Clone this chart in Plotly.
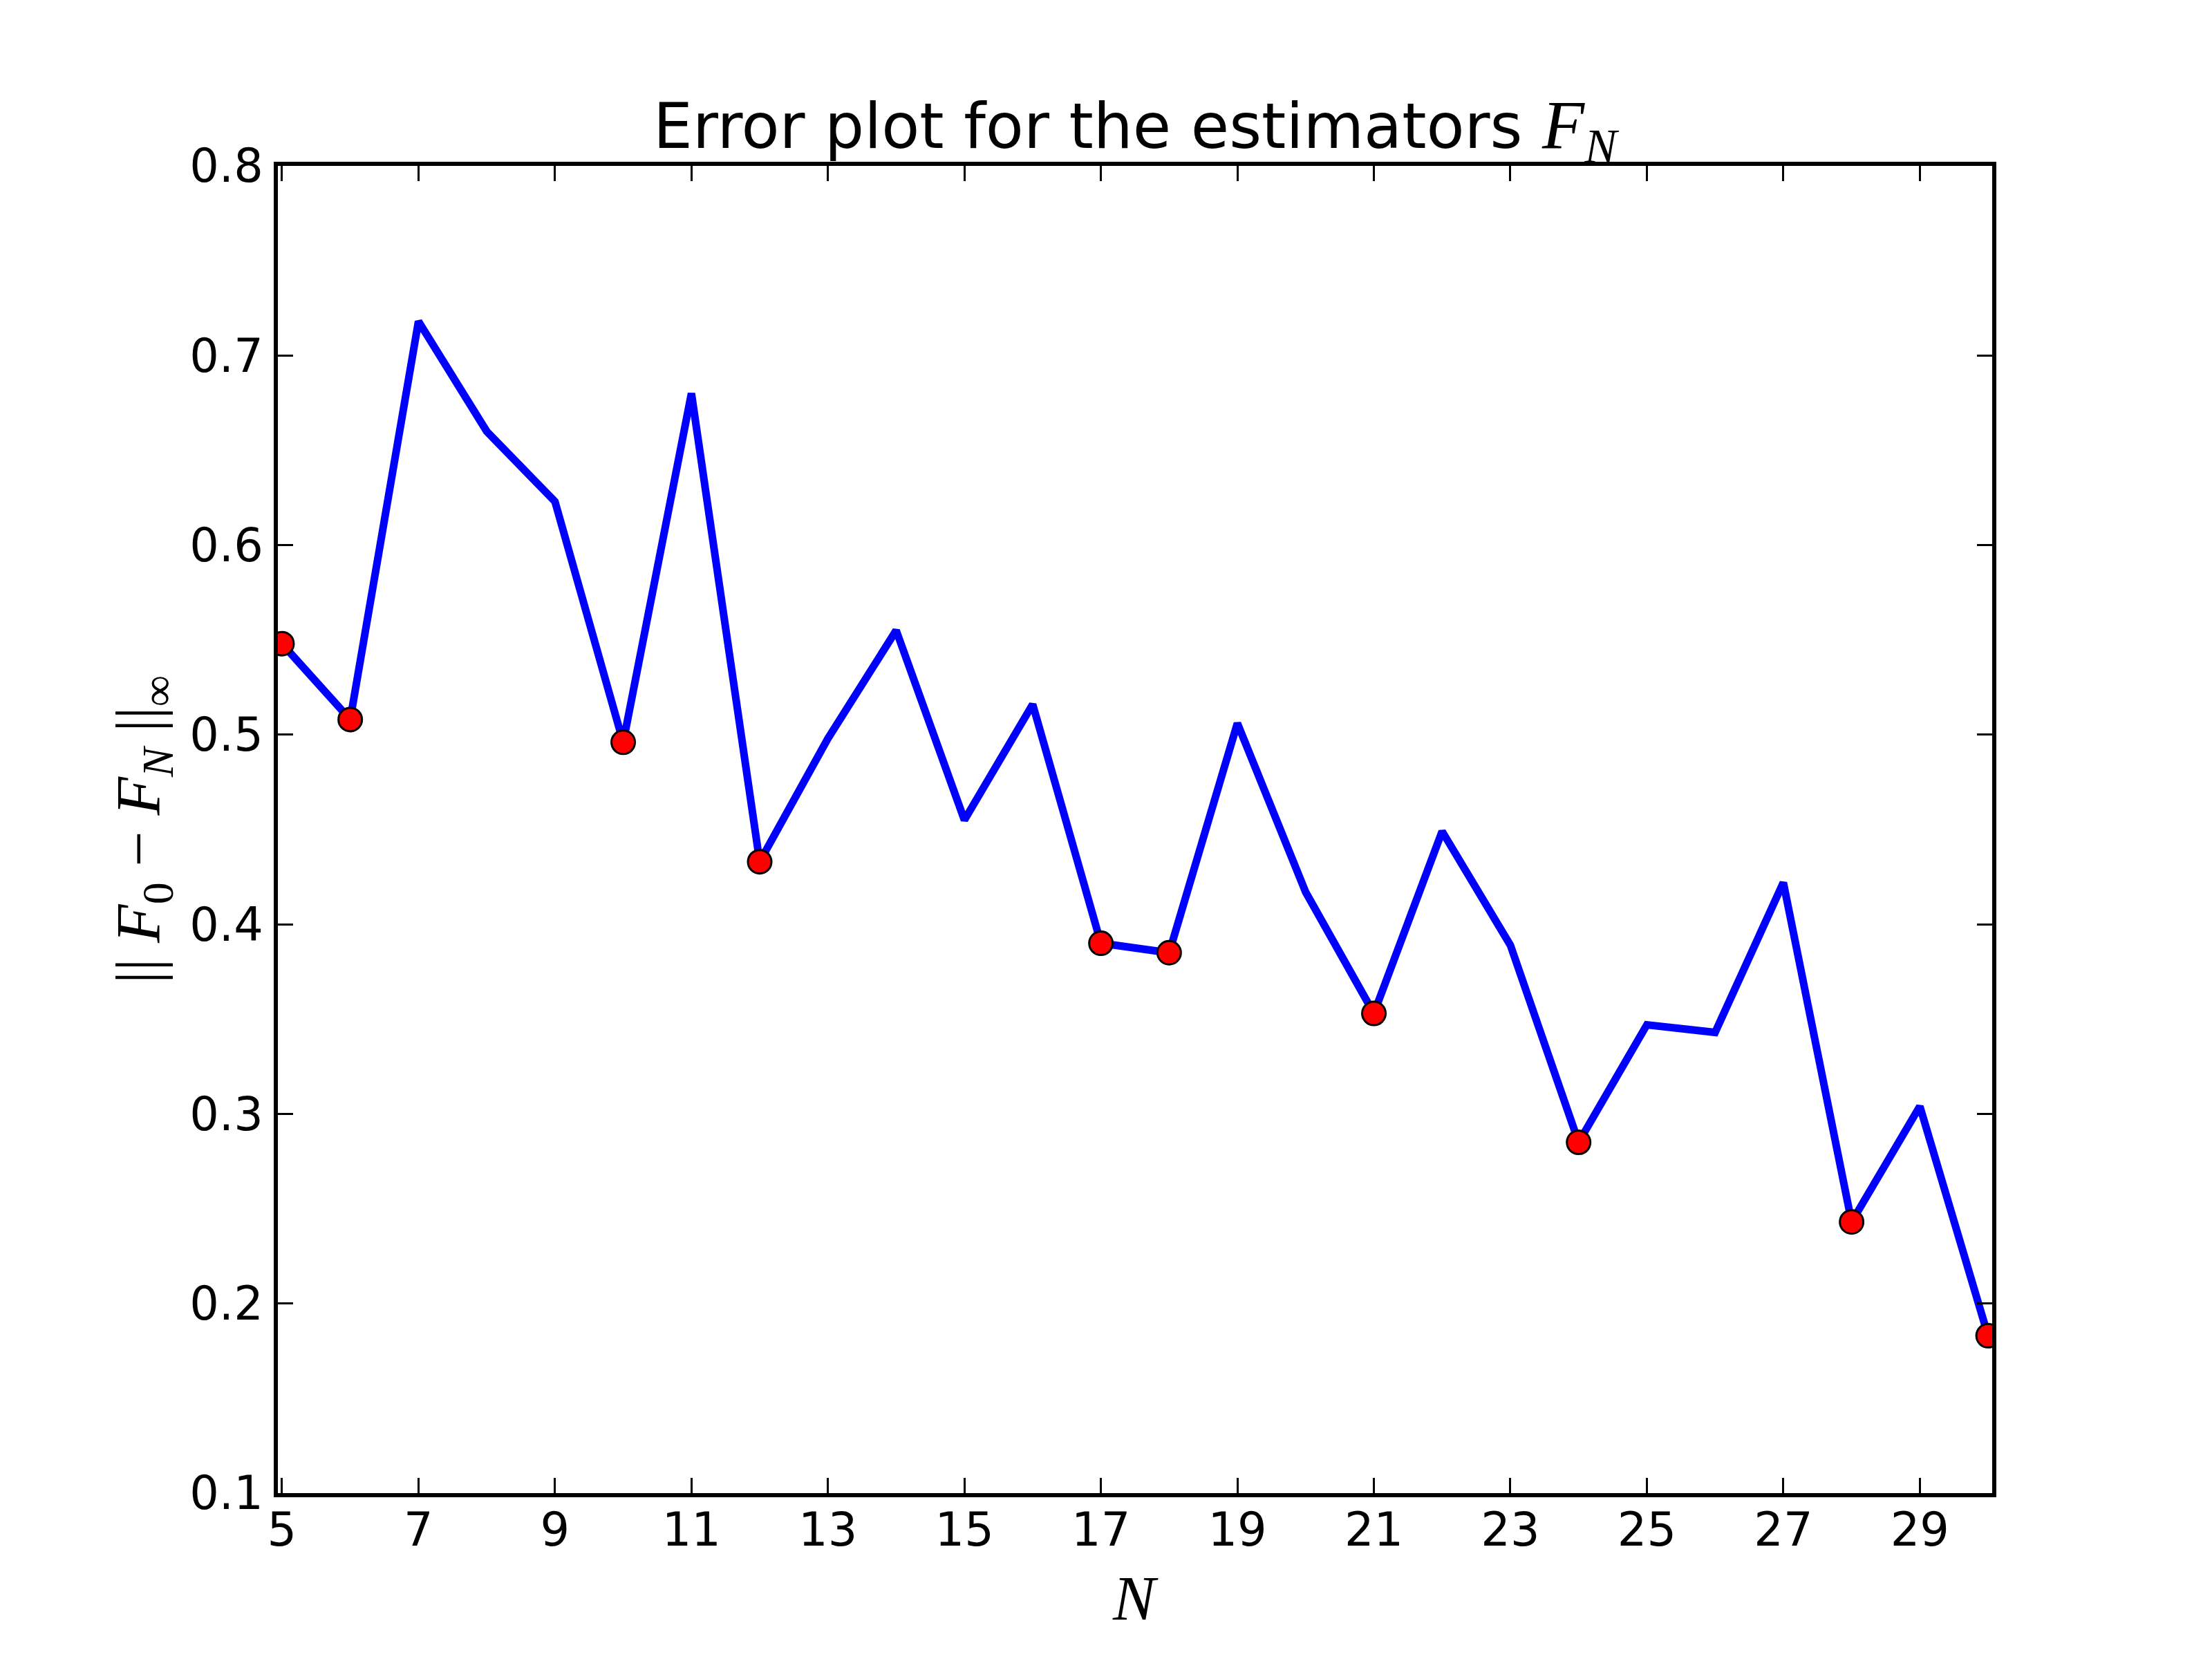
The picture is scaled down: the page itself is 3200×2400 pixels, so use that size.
import plotly.graph_objects as go

# Data
N = list(range(5, 31))
err = [0.548, 0.508, 0.718, 0.660, 0.623, 0.496, 0.680, 0.433, 0.498, 0.555,
       0.455, 0.516, 0.390, 0.385, 0.506, 0.417, 0.353, 0.449, 0.389, 0.285,
       0.347, 0.343, 0.422, 0.243, 0.304, 0.183]
record_N = [5, 6, 10, 12, 17, 18, 21, 24, 28, 30]
record_err = [err[N.index(n)] for n in record_N]

x_ticks = list(range(5, 30, 2))
y_ticks = [0.1, 0.2, 0.3, 0.4, 0.5, 0.6, 0.7, 0.8]
y_tick_labels = ["0.1", "0.2", "0.3", "0.4", "0.5", "0.6", "0.7", "0.8"]

MATH = "Liberation Serif"
SANS = "DejaVu Sans"

fig = go.Figure()
fig.add_trace(go.Scatter(x=N, y=err, mode="lines",
                         line=dict(color="#0000ff", width=11),
                         showlegend=False))
fig.add_trace(go.Scatter(x=record_N, y=record_err, mode="markers",
                         marker=dict(color="#ff0000", size=34,
                                     line=dict(color="black", width=3)),
                         showlegend=False))

axis_common = dict(showline=True, linecolor="black", linewidth=5.6,
                   mirror="ticks", ticks="inside", ticklen=22, tickwidth=3,
                   tickcolor="black", showgrid=False, zeroline=False,
                   tickfont=dict(family=SANS, size=67, color="black"))

fig.update_xaxes(range=[4.94, 30.06], tickvals=x_ticks,
                 ticktext=[str(v) for v in x_ticks], ticklabelstandoff=-10,
                 **axis_common)
fig.update_yaxes(range=[0.1, 0.8], tickvals=y_ticks, ticktext=y_tick_labels,
                 ticklabelstandoff=2, **axis_common)

fig.update_layout(
    width=3200, height=2400,
    margin=dict(l=394, r=326, t=232, b=248),
    paper_bgcolor="white", plot_bgcolor="white",
    title=dict(
        text="Error plot for the estimators "
             f"<span style='font-family:{MATH};font-size:100px'><i>F</i><sub><i>N</i></sub></span>",
        font=dict(family=SANS, size=90, color="black"),
        x=0.5, xref="paper", xanchor="center",
        y=1, yref="paper", yanchor="bottom", pad=dict(b=26)),
    annotations=[
        dict(text="<i>N</i>", xref="paper", yref="paper", x=0.5, y=-0.079,
             xanchor="center", yanchor="middle", showarrow=False,
             font=dict(family=MATH, size=92, color="black")),
        dict(text="|| <i>F</i><sub>0</sub> − <i>F</i><sub><i>N</i></sub> ||<sub>∞</sub>",
             xref="paper", yref="paper", x=-0.0786, y=0.5, textangle=-90,
             xanchor="center", yanchor="middle", showarrow=False,
             font=dict(family=MATH, size=91, color="black")),
    ],
)

fig.write_html("out.html")
